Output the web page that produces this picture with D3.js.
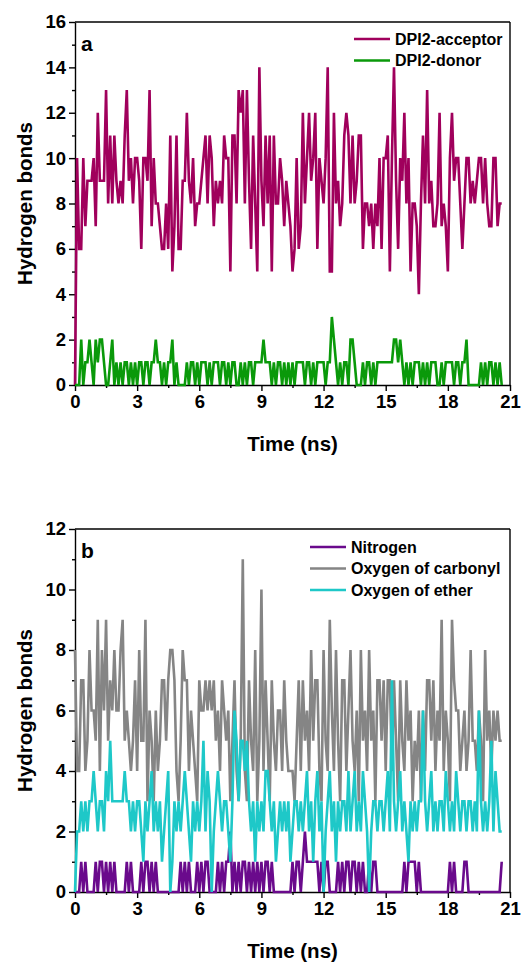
<!DOCTYPE html>
<html>
<head>
<meta charset="utf-8">
<title>Hydrogen bonds</title>
<script src="https://cdn.jsdelivr.net/npm/d3@7/dist/d3.min.js"></script>
<style>
  body { margin: 0; background: #fff; }
  svg text { font-family: "Liberation Sans", Arial, sans-serif; font-weight: bold; fill: #000; }
  .axis path, .axis line { stroke: #000; stroke-width: 1.4; }
</style>
</head>
<body>
<div id="chart"></div>
<script>
// sampling interval of the trajectory (ns)
var step = 0.1;

// panel a
var acceptor = [
  0,10,6,6,10,7,9,9,9,10, 7,12,9,9,9,13,8,11,8,11, 9,8,9,8,11,13,9,10,8,10,
  10,9,6,10,10,9,13,7,10,8, 8,7,6,6,8,6,11,5,7,11, 6,6,9,9,12,9,8,10,7,8,
  8,9,10,11,8,11,10,7,9,
  8,9,8,11,10,10,5,11,11,8, 13,12,13,8,13,9,6,11,8,5, 14,9,7,11,8,11,5,11,8,8,
  10,9,7,9,8,7,5,6,10,6, 7,12,8,10,12,9,10,12,6,10, 9,8,10,14,5,5,12,8,9,7,
  8,11,12,11,8,11,8,9,11,
  11,6,8,8,7,8,6,8,7,10, 6,10,10,11,5,10,14,9,6,10, 9,12,8,10,5,8,8,7,4,8,
  11,8,13,8,9,7,7,8,12,7, 8,7,5,10,12,9,10,10,8,6, 8,10,10,8,9,8,9,10,10,8,
  10,8,7,7,10,10,7,8,8
];
var donor = [
  0,0,0,2,0,1,1,2,1,0, 2,1,2,2,1,0,0,1,2,0, 1,0,1,0,1,1,0,1,0,1,
  0,1,1,0,1,1,0,1,1,2, 1,1,0,1,0,1,1,2,0,1, 0,0,0,0,1,0,1,1,0,1,
  0,1,1,1,0,1,0,1,1,
  1,0,1,1,0,1,0,1,1,0, 0,1,0,1,0,1,1,0,1,1, 1,1,2,1,1,1,0,1,0,1,
  1,0,1,0,1,0,1,0,1,1, 1,1,0,1,1,0,1,0,1,1, 1,1,0,1,1,3,2,1,0,1,
  0,1,1,0,2,2,1,0,0,
  0,1,0,1,1,0,1,0,1,1, 1,1,1,1,1,1,2,2,1,2, 1,0,1,0,1,0,1,1,1,0,
  1,0,1,0,1,1,1,0,0,1, 0,1,1,1,1,0,1,1,0,1, 1,2,0,0,0,0,0,0,1,0,
  1,0,1,1,0,1,0,1,0
];

// panel b
var nitrogen = [
  0,0,0,1,0,1,0,0,0,0, 1,0,1,1,0,1,0,1,0,1, 0,0,0,0,0,1,0,1,0,0,
  0,0,1,0,1,1,0,1,0,1, 0,0,0,0,0,0,0,0,0,0, 0,1,0,1,0,1,0,0,0,1,
  0,1,0,1,1,0,0,0,0,
  1,0,1,0,1,1,2,0,1,0, 1,0,1,1,0,1,0,1,0,1, 0,1,0,1,1,0,1,0,0,0,
  0,0,0,0,0,0,1,0,1,1, 0,1,2,1,1,1,1,1,1,0, 1,0,1,1,0,0,0,0,1,0,
  1,0,1,1,0,1,1,0,1,
  0,1,0,0,1,0,1,1,0,0, 0,0,0,0,0,0,0,0,0,0, 0,1,0,1,1,1,1,0,1,0,
  0,0,0,0,0,0,0,0,0,0, 0,0,0,1,0,1,0,0,0,0, 1,1,0,0,0,0,0,0,0,0,
  0,0,0,0,0,0,0,0,1
];
var carbonyl = [
  8,4,4,7,7,4,5,8,6,6, 5,9,4,8,6,9,5,7,6,8, 6,6,8,9,5,6,5,4,5,7,
  4,8,5,5,9,3,6,5,3,6, 4,5,7,7,5,7,8,8,7,4, 3,5,8,7,7,4,6,5,4,3,
  7,6,6,7,6,7,6,7,5,
  6,4,7,6,5,6,3,5,7,4, 3,5,11,4,3,7,5,4,8,3, 5,10,4,7,5,3,7,5,4,6,
  6,4,7,5,4,4,4,3,5,7, 4,7,5,6,4,8,5,7,7,4, 3,8,5,4,9,6,4,8,5,3,
  7,7,4,6,8,5,4,6,3,
  8,5,6,4,8,5,6,3,7,7, 5,7,4,7,7,4,7,5,3,7, 5,4,7,5,6,3,5,4,6,3,
  6,4,7,7,5,7,4,6,5,9, 4,6,5,3,9,7,6,6,4,5, 6,4,5,8,5,5,4,6,5,3,
  8,5,6,4,6,5,6,5,5
];
var ether = [
  0,2,2,3,2,3,2,3,3,4, 3,2,3,3,2,4,3,5,3,3, 3,3,3,3,4,3,3,2,3,2,
  3,3,2,1,3,2,3,4,2,3, 2,3,1,2,3,4,0,1,3,2, 3,2,3,4,3,2,1,3,2,3,
  2,3,5,2,4,3,0,2,3,
  4,3,2,3,3,2,1,3,6,5, 3,5,5,4,5,3,2,3,1,3, 2,3,2,4,4,3,2,3,1,2,
  3,2,3,2,3,1,2,3,3,2, 3,2,3,4,2,3,1,3,4,2, 3,0,2,3,4,2,3,1,3,2,
  3,3,2,4,2,3,4,2,3,
  2,4,3,2,0,2,3,3,2,3, 3,2,3,4,2,7,3,2,3,4, 2,3,2,1,3,2,3,2,3,3,
  6,3,2,3,4,2,3,2,3,3, 2,4,3,2,3,2,4,3,2,3, 3,2,3,3,2,3,2,6,3,2,
  3,2,3,5,2,4,3,2,2
];

var xTicks = [0, 3, 6, 9, 12, 15, 18, 21];
var yTicksA = [0, 2, 4, 6, 8, 10, 12, 14, 16];
var yTicksB = [0, 2, 4, 6, 8, 10, 12];

var W = 524, H = 963;
var left = 75, right = 510;

var svg = d3.select("#chart").append("svg")
  .attr("width", W)
  .attr("height", H);

var x = d3.scaleLinear().domain([0, 21]).range([left, right]);

function drawPanel(opt) {
  var y = d3.scaleLinear().domain([0, opt.yMax]).range([opt.bottom, opt.top]);
  var g = svg.append("g");

  // minor ticks
  var xMinor = d3.range(1.5, 21, 3);
  var yMinor = d3.range(1, opt.yMax, 2);
  g.append("g").attr("class", "axis")
    .attr("transform", "translate(0," + opt.bottom + ")")
    .call(d3.axisBottom(x).tickValues(xMinor).tickSize(3).tickFormat(""))
    .select(".domain").remove();
  g.append("g").attr("class", "axis")
    .attr("transform", "translate(" + left + ",0)")
    .call(d3.axisLeft(y).tickValues(yMinor).tickSize(3).tickFormat(""))
    .select(".domain").remove();

  // major ticks
  var xa = g.append("g").attr("class", "axis")
    .attr("transform", "translate(0," + opt.bottom + ")")
    .call(d3.axisBottom(x).tickValues(xTicks).tickSize(6).tickPadding(4).tickSizeOuter(0));
  xa.selectAll("text").style("font-size", "18.5px");
  var ya = g.append("g").attr("class", "axis")
    .attr("transform", "translate(" + left + ",0)")
    .call(d3.axisLeft(y).tickValues(opt.yTicks).tickSize(6).tickPadding(3).tickSizeOuter(0));
  ya.selectAll("text").style("font-size", "18.5px");

  // frame top / right
  g.append("line").attr("x1", left).attr("x2", right).attr("y1", opt.top).attr("y2", opt.top)
    .attr("stroke", "#000").attr("stroke-width", 1.4);
  g.append("line").attr("x1", right).attr("x2", right).attr("y1", opt.top).attr("y2", opt.bottom)
    .attr("stroke", "#000").attr("stroke-width", 1.4);

  // lines
  opt.series.forEach(function(s) {
    var line = d3.line()
      .x(function(d, i) { return x(i * step); })
      .y(function(d) { return y(d); });
    g.append("path")
      .datum(s.values)
      .attr("fill", "none")
      .attr("stroke", s.color)
      .attr("stroke-width", 2.6)
      .attr("stroke-linejoin", "miter")
      .attr("d", line);
  });

  // axis titles
  g.append("text")
    .attr("x", (left + right) / 2)
    .attr("y", opt.bottom + 66)
    .attr("text-anchor", "middle")
    .style("font-size", "20.5px")
    .text("Time (ns)");
  g.append("text")
    .attr("transform", "translate(32," + ((opt.top + opt.bottom) / 2) + ") rotate(-90)")
    .attr("text-anchor", "middle")
    .style("font-size", "20.5px")
    .text("Hydrogen bonds");

  // panel letter
  g.append("text")
    .attr("x", 81)
    .attr("y", opt.top + 29)
    .style("font-size", "21px")
    .text(opt.letter);

  // legend
  opt.legend.forEach(function(s, i) {
    var ly = opt.legendY + i * 21.5;
    g.append("line")
      .attr("x1", opt.legendX).attr("x2", opt.legendX + 36)
      .attr("y1", ly).attr("y2", ly)
      .attr("stroke", s.color).attr("stroke-width", 2.6);
    g.append("text")
      .attr("x", opt.legendX + 41)
      .attr("y", ly + 5.5)
      .style("font-size", "16px")
      .text(s.name);
  });
}

var accSeries = { name: "DPI2-acceptor", values: acceptor, color: "#a0005c" };
var donSeries = { name: "DPI2-donor", values: donor, color: "#0a990a" };
drawPanel({
  top: 22, bottom: 385, yMax: 16, yTicks: yTicksA, letter: "a",
  series: [accSeries, donSeries],
  legend: [accSeries, donSeries],
  legendX: 354, legendY: 39
});

var nSeries = { name: "Nitrogen", values: nitrogen, color: "#6a0a8c" };
var cSeries = { name: "Oxygen of carbonyl", values: carbonyl, color: "#858585" };
var eSeries = { name: "Oxygen of ether", values: ether, color: "#1ec8c8" };
drawPanel({
  top: 529, bottom: 892, yMax: 12, yTicks: yTicksB, letter: "b",
  series: [nSeries, cSeries, eSeries],
  legend: [nSeries, cSeries, eSeries],
  legendX: 310, legendY: 547
});
</script>
</body>
</html>
